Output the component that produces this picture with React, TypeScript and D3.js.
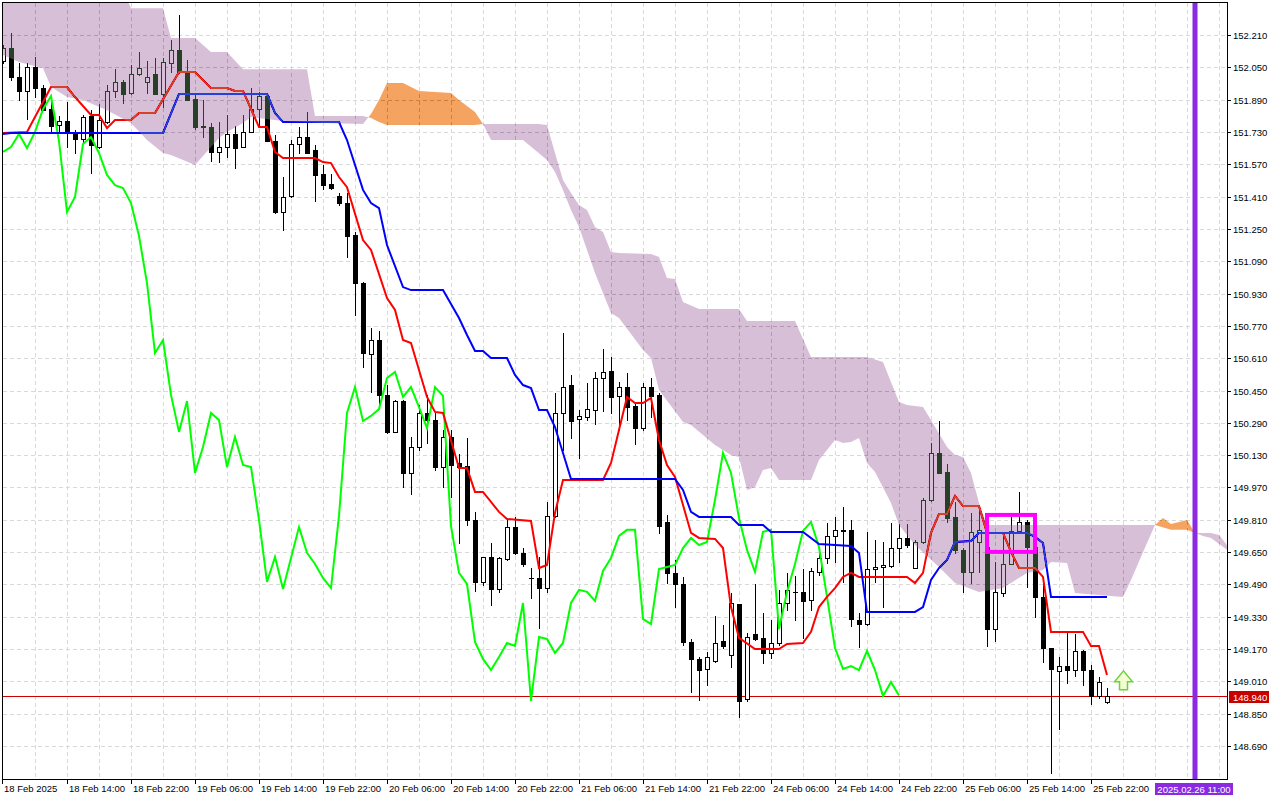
import * as d3 from "d3";

// H1 bars from 18 Feb 2025 06:00 to 26 Feb 2025 00:00 (index 0..138)
const opens = [
  152.081, 152.145, 152.002, 151.933, 152.051, 151.947, 151.843, 151.764, 151.784, 151.725,
  151.695, 151.809, 151.655, 151.779, 151.933, 151.977, 151.923, 152.017, 151.977, 152.017,
  151.918, 152.071, 152.136, 152.027, 151.893, 151.759, 151.754, 151.631, 151.655, 151.720,
  151.655, 151.730, 151.843, 151.908, 151.685, 151.334, 151.413, 151.670, 151.705, 151.640,
  151.522, 151.472, 151.413, 151.378, 151.220, 150.982, 150.631, 150.700, 150.428, 150.245,
  150.398, 150.042, 150.170, 150.339, 150.304, 150.071, 150.220, 150.091, 150.076, 149.809,
  149.502, 149.626, 149.467, 149.616, 149.774, 149.646, 149.522, 149.522, 149.472, 149.829,
  150.339, 150.477, 150.309, 150.319, 150.353, 150.512, 150.547, 150.423, 150.467, 150.373,
  150.264, 150.467, 150.428, 149.799, 149.547, 149.492, 149.205, 149.121, 149.071, 149.111,
  149.210, 149.141, 149.393, 148.923, 149.245, 149.225, 149.151, 149.200, 149.398, 149.453,
  149.453, 149.413, 149.552, 149.621, 149.730, 149.755, 149.760, 149.314, 149.294, 149.566,
  149.576, 149.581, 149.670, 149.720, 149.571, 149.700, 149.908, 150.141, 150.047, 149.824,
  149.661, 149.552, 149.700, 149.675, 149.269, 149.448, 149.591, 149.755, 149.799, 149.675,
  149.428, 149.175, 149.061, 149.086, 149.066, 149.161, 149.066, 148.938, 148.908,
];
const highs = [
  152.160, 152.220, 152.071, 152.071, 152.101, 151.962, 151.888, 151.809, 151.878, 151.739,
  151.814, 151.838, 151.868, 151.962, 152.041, 151.987, 152.061, 152.126, 152.081, 152.096,
  152.096, 152.185, 152.309, 152.086, 151.913, 151.888, 151.774, 151.779, 151.814, 151.759,
  151.814, 151.947, 151.928, 151.913, 151.715, 151.507, 151.690, 151.754, 151.829, 151.665,
  151.566, 151.522, 151.428, 151.428, 151.235, 150.987, 150.759, 150.745, 150.477, 150.403,
  150.403, 150.220, 150.378, 150.428, 150.339, 150.255, 150.255, 150.136, 150.215, 149.849,
  149.626, 149.695, 149.626, 149.819, 149.824, 149.670, 149.571, 149.626, 149.898, 150.438,
  150.735, 150.527, 150.353, 150.487, 150.542, 150.655, 150.616, 150.492, 150.537, 150.383,
  150.487, 150.512, 150.438, 149.834, 149.611, 149.527, 149.220, 149.131, 149.156, 149.334,
  149.289, 149.448, 149.393, 149.250, 149.492, 149.349, 149.314, 149.463, 149.547, 149.532,
  149.566, 149.571, 149.646, 149.794, 149.824, 149.873, 149.809, 149.349, 149.750, 149.710,
  149.700, 149.794, 149.789, 149.789, 149.710, 149.918, 150.190, 150.299, 150.086, 149.898,
  149.670, 149.844, 149.859, 149.695, 149.601, 149.735, 149.824, 149.948, 149.809, 149.735,
  149.497, 149.175, 149.131, 149.250, 149.245, 149.166, 149.091, 149.032, 148.977,
];
const lows = [
  152.071, 151.987, 151.888, 151.794, 151.903, 151.838, 151.725, 151.725, 151.655, 151.626,
  151.675, 151.527, 151.650, 151.774, 151.903, 151.873, 151.918, 152.012, 151.923, 151.918,
  151.853, 152.027, 152.022, 151.888, 151.744, 151.705, 151.586, 151.581, 151.606, 151.551,
  151.655, 151.730, 151.754, 151.685, 151.329, 151.245, 151.408, 151.626, 151.626, 151.388,
  151.447, 151.447, 151.368, 151.111, 150.824, 150.566, 150.443, 150.378, 150.240, 150.245,
  149.972, 149.938, 150.156, 150.190, 150.057, 149.972, 149.923, 149.695, 149.784, 149.458,
  149.487, 149.388, 149.453, 149.611, 149.641, 149.581, 149.423, 149.274, 149.453, 149.824,
  150.156, 150.215, 150.116, 150.304, 150.284, 150.349, 150.339, 150.255, 150.304, 150.185,
  150.255, 150.319, 149.745, 149.497, 149.378, 149.190, 148.958, 148.918, 148.992, 149.106,
  149.175, 149.081, 148.834, 148.913, 149.215, 149.101, 149.126, 149.190, 149.364, 149.314,
  149.225, 149.364, 149.537, 149.596, 149.601, 149.502, 149.284, 149.180, 149.289, 149.502,
  149.378, 149.576, 149.601, 149.675, 149.571, 149.695, 149.903, 150.042, 149.799, 149.646,
  149.453, 149.497, 149.552, 149.185, 149.210, 149.433, 149.591, 149.750, 149.477, 149.329,
  149.106, 148.557, 148.774, 149.002, 149.037, 148.992, 148.898, 148.928, 148.903,
];
const closes = [
  152.145, 152.002, 151.933, 152.051, 151.947, 151.838, 151.759, 151.784, 151.730, 151.695,
  151.804, 151.665, 151.789, 151.933, 151.977, 151.918, 152.017, 152.046, 152.002, 151.918,
  152.076, 152.136, 152.027, 151.888, 151.754, 151.754, 151.631, 151.655, 151.720, 151.650,
  151.730, 151.843, 151.908, 151.685, 151.334, 151.408, 151.670, 151.705, 151.626, 151.517,
  151.467, 151.452, 151.378, 151.215, 150.982, 150.636, 150.700, 150.428, 150.245, 150.398,
  150.042, 150.170, 150.339, 150.304, 150.071, 150.220, 150.081, 150.071, 149.809, 149.502,
  149.626, 149.467, 149.621, 149.774, 149.646, 149.591, 149.522, 149.472, 149.829, 150.339,
  150.467, 150.299, 150.324, 150.358, 150.512, 150.542, 150.418, 150.467, 150.368, 150.264,
  150.467, 150.423, 149.779, 149.547, 149.492, 149.205, 149.121, 149.066, 149.131, 149.200,
  149.185, 149.398, 148.913, 149.230, 149.220, 149.151, 149.200, 149.398, 149.463, 149.453,
  149.408, 149.557, 149.621, 149.730, 149.760, 149.760, 149.319, 149.294, 149.566, 149.576,
  149.586, 149.670, 149.720, 149.685, 149.700, 149.908, 150.141, 150.042, 149.819, 149.661,
  149.552, 149.750, 149.760, 149.269, 149.453, 149.591, 149.755, 149.799, 149.675, 149.428,
  149.175, 149.071, 149.086, 149.066, 149.161, 149.066, 148.938, 149.007, 148.940,
];

// Ichimoku lines, read as [bar, price] vertices
const tenkan: [number, number][] = [
  [0, 151.725], [3, 151.730], [6, 151.952], [8, 151.952], [9, 151.903], [11, 151.814], [12, 151.814],
  [13, 151.749], [14, 151.789], [16, 151.789], [17, 151.824], [19, 151.824], [22, 152.027], [24, 152.027],
  [26, 151.947], [28, 151.947], [29, 151.933], [30, 151.933], [32, 151.754], [33, 151.754], [34, 151.631],
  [35, 151.601], [39, 151.601], [40, 151.581], [41, 151.576], [42, 151.507], [43, 151.457], [45, 151.195],
  [46, 151.146], [48, 150.908], [49, 150.849], [50, 150.700], [51, 150.685], [53, 150.418], [54, 150.344],
  [55, 150.339], [57, 150.066], [58, 150.066], [59, 149.948], [60, 149.948], [62, 149.849], [63, 149.814],
  [66, 149.804], [67, 149.571], [68, 149.586], [69, 149.844], [70, 150.007], [75, 150.007], [76, 150.091],
  [78, 150.418], [79, 150.388], [80, 150.388], [81, 150.413], [82, 150.205], [83, 150.081], [84, 150.022],
  [86, 149.745], [87, 149.720], [89, 149.715], [90, 149.670], [91, 149.378], [92, 149.225], [94, 149.170],
  [97, 149.170], [98, 149.195], [100, 149.200], [101, 149.255], [102, 149.378], [103, 149.428], [104, 149.472],
  [105, 149.527], [106, 149.547], [107, 149.527], [113, 149.527], [114, 149.497], [115, 149.547], [116, 149.745],
  [117, 149.839], [118, 149.839], [119, 149.928], [120, 149.878], [122, 149.878], [123, 149.745], [125, 149.745],
  [126, 149.651], [127, 149.571], [129, 149.571], [130, 149.527], [131, 149.255], [135, 149.255], [136, 149.185],
  [137, 149.185], [138, 149.042],
];
const kijun: [number, number][] = [
  [0, 151.720], [1, 151.725], [20, 151.725], [22, 151.918], [33, 151.918], [34, 151.824], [35, 151.779],
  [42, 151.779], [43, 151.690], [45, 151.443], [46, 151.378], [47, 151.353], [48, 151.170], [50, 150.962],
  [51, 150.947], [55, 150.947], [57, 150.809], [58, 150.725], [59, 150.646], [60, 150.646], [61, 150.611],
  [63, 150.611], [64, 150.527], [65, 150.477], [66, 150.462], [67, 150.353], [68, 150.353], [69, 150.269],
  [71, 150.012], [84, 150.012], [85, 149.958], [86, 149.849], [87, 149.824], [91, 149.824], [92, 149.784],
  [95, 149.784], [96, 149.750], [100, 149.750], [102, 149.690], [106, 149.680], [107, 149.646], [108, 149.354],
  [114, 149.354], [115, 149.378], [116, 149.512], [117, 149.571], [118, 149.611], [119, 149.700], [121, 149.705],
  [122, 149.745], [128, 149.745], [129, 149.725], [130, 149.695], [131, 149.428], [138, 149.428],
];
const spanA: [number, number][] = [
  [0, 152.111], [2, 152.076], [5, 152.046], [6, 151.952], [8, 151.903], [10, 151.888], [13, 151.838],
  [16, 151.774], [18, 151.690], [20, 151.626], [21, 151.616], [24, 151.566], [26, 151.655], [27, 151.700],
  [28, 151.730], [30, 151.774], [31, 151.804], [35, 151.784], [40, 151.774], [45, 151.769], [46, 151.819],
  [47, 151.888], [48, 151.972], [50, 151.972], [52, 151.933], [56, 151.923], [57, 151.888], [58, 151.858],
  [59, 151.829], [60, 151.769], [61, 151.690], [65, 151.690], [68, 151.591], [69, 151.532], [70, 151.443],
  [71, 151.343], [72, 151.259], [73, 151.146], [74, 151.032], [76, 150.834], [77, 150.809], [80, 150.650],
  [81, 150.611], [82, 150.452], [85, 150.294], [86, 150.279], [89, 150.180], [91, 150.131], [92, 150.121],
  [93, 149.958], [94, 149.972], [95, 150.057], [96, 150.066], [97, 150.007], [101, 150.007], [102, 150.106],
  [104, 150.205], [105, 150.190], [106, 150.195], [107, 150.215], [108, 150.091], [109, 150.047], [111, 149.893],
  [112, 149.784], [114, 149.685], [117, 149.576], [119, 149.497], [122, 149.453], [125, 149.472], [126, 149.497],
  [128, 149.547], [130, 149.561], [131, 149.601], [133, 149.596], [134, 149.448], [140, 149.428], [141, 149.512],
  [143, 149.695], [144, 149.784], [145, 149.819], [146, 149.789], [147, 149.799], [148, 149.809], [149, 149.745],
  [150, 149.730], [151, 149.720], [153, 149.661], [155, 149.661],
];
const spanB: [number, number][] = [
  [0, 152.433], [15, 152.433], [16, 152.343], [20, 152.343], [21, 152.195], [24, 152.195], [26, 152.126],
  [28, 152.126], [30, 152.041], [38, 152.041], [39, 151.809], [45, 151.809], [46, 151.799], [47, 151.779],
  [48, 151.764], [59, 151.764], [60, 151.769], [67, 151.769], [68, 151.764], [69, 151.626], [70, 151.492],
  [71, 151.428], [72, 151.368], [73, 151.343], [74, 151.259], [75, 151.235], [76, 151.136], [77, 151.131],
  [81, 151.126], [82, 151.111], [83, 151.007], [84, 151.002], [85, 150.888], [87, 150.853], [92, 150.853],
  [93, 150.794], [99, 150.794], [101, 150.616], [108, 150.616], [110, 150.591], [112, 150.393], [113, 150.378],
  [115, 150.368], [116, 150.304], [118, 150.170], [119, 150.131], [120, 150.121], [121, 150.042], [122, 149.893],
  [123, 149.784], [144, 149.784], [146, 149.760], [148, 149.760], [149, 149.745], [151, 149.745], [152, 149.735],
  [153, 149.685], [155, 149.685],
];

const priceTicks = [
  152.21, 152.05, 151.89, 151.73, 151.57, 151.41, 151.25, 151.09, 150.93, 150.77, 150.61, 150.45,
  150.29, 150.13, 149.97, 149.81, 149.65, 149.49, 149.33, 149.17, 149.01, 148.85, 148.69,
];
const timeLabels: [number, string][] = [
  [0, "18 Feb 2025"], [8, "18 Feb 14:00"], [16, "18 Feb 22:00"], [24, "19 Feb 06:00"], [32, "19 Feb 14:00"],
  [40, "19 Feb 22:00"], [48, "20 Feb 06:00"], [56, "20 Feb 14:00"], [64, "20 Feb 22:00"], [72, "21 Feb 06:00"],
  [80, "21 Feb 14:00"], [88, "21 Feb 22:00"], [96, "24 Feb 06:00"], [104, "24 Feb 14:00"], [112, "24 Feb 22:00"],
  [120, "25 Feb 06:00"], [128, "25 Feb 14:00"], [136, "25 Feb 22:00"],
];
const lastPrice = 148.94;
const cursorBar = 149;
const cursorLabel = "2025.02.26 11:00";
const boxFrom = 123, boxTo = 129, boxHigh = 149.834, boxLow = 149.651;
const arrowBar = 140, arrowPrice = 149.062;

const font = "'Liberation Sans', Arial, sans-serif";

const App: React.FC = () => {
  const width = 1280;
  const height = 800;
  const left = 2, top = 2, right = 1227, bottom = 779;

  const x = d3.scaleLinear([0, 1], [3, 11]);
  const y = d3.scaleLinear([148.69, 152.21], [746, 35]);

  const line = d3.line<[number, number]>((d) => x(d[0]), (d) => y(d[1]));
  const chikou: [number, number][] = closes.slice(26).map((c, k) => [k, c]);

  const aboveLine = d3.area<[number, number]>().x((d) => x(d[0])).y0(-20).y1((d) => y(d[1]));
  const belowLine = d3.area<[number, number]>().x((d) => x(d[0])).y0(bottom + 20).y1((d) => y(d[1]));

  const gridBars = d3.range(4, 154, 4);

  return (
    <svg width={width} height={height} style={{ position: "absolute", left: 0, top: 0 }} fontFamily={font}>
      <defs>
        <clipPath id="plot"><rect x={left + 1} y={top + 1} width={right - left - 1} height={bottom - top - 1} /></clipPath>
        <clipPath id="aboveB"><path d={aboveLine(spanB) ?? undefined} /></clipPath>
        <clipPath id="aboveA"><path d={aboveLine(spanA) ?? undefined} /></clipPath>
      </defs>
      <rect width={width} height={height} fill="white" />

      <g clipPath="url(#plot)">
        <rect x={left} y={top} width={right - left} height={bottom - top} fill="white" />

        {/* grid */}
        <g stroke="#d9d9d9" strokeDasharray="4,3" shapeRendering="crispEdges">
          {priceTicks.map((t) => (
            <line key={t} x1={left + 1} x2={right} y1={Math.round(y(t)) + 0.5} y2={Math.round(y(t)) + 0.5} />
          ))}
          {gridBars.map((b) => (
            <line key={b} x1={x(b) + 0.5} x2={x(b) + 0.5} y1={top + 1} y2={bottom} />
          ))}
        </g>

        <line x1={left} x2={right} y1={Math.round(y(lastPrice)) + 0.5} y2={Math.round(y(lastPrice)) + 0.5}
          stroke="#cc0000" shapeRendering="crispEdges" />

        {/* candles */}
        <g shapeRendering="crispEdges">
          {opens.map((o, i) => {
            const c = closes[i];
            const cx = Math.round(x(i));
            const yt = Math.round(y(Math.max(o, c)));
            const yb = Math.round(y(Math.min(o, c)));
            return (
              <g key={i}>
                <line x1={cx + 0.5} x2={cx + 0.5} y1={Math.round(y(highs[i]))} y2={Math.round(y(lows[i])) + 1} stroke="black" />
                {yb - yt < 1 ? (
                  <line x1={cx - 2} x2={cx + 3} y1={yt + 0.5} y2={yt + 0.5} stroke="black" />
                ) : (
                  <rect x={cx - 1.5} y={yt + 0.5} width={4} height={yb - yt} fill={c >= o ? "white" : "black"} stroke="black" />
                )}
              </g>
            );
          })}
        </g>

        <path d={line(chikou) ?? undefined} fill="none" stroke="#00ff00" strokeWidth={2} />
        <path d={line(tenkan) ?? undefined} fill="none" stroke="#ff0000" strokeWidth={2} />
        <path d={line(kijun) ?? undefined} fill="none" stroke="#0000ff" strokeWidth={2} />

        {/* kumo, drawn by difference so it tints what lies below it */}
        <g style={{ mixBlendMode: "difference" }}>
          <path d={belowLine(spanA) ?? undefined} clipPath="url(#aboveB)" fill="rgb(11,91,159)" />
          <path d={belowLine(spanB) ?? undefined} clipPath="url(#aboveA)" fill="rgb(39,64,39)" />
        </g>

        <rect x={x(boxFrom)} y={y(boxHigh)} width={x(boxTo) - x(boxFrom)} height={y(boxLow) - y(boxHigh)}
          fill="none" stroke="#ff00ff" strokeWidth={4} />

        <path
          transform={`translate(${x(arrowBar) + 0.5},${y(arrowPrice)})`}
          d="M0,0 L9,11 L4,11 L4,19 L-4,19 L-4,11 L-9,11 Z"
          fill="#f2fdd2" stroke="#6ed23c" strokeWidth={1.5} strokeLinejoin="miter"
        />

        <line x1={x(cursorBar)} x2={x(cursorBar)} y1={top} y2={bottom} stroke="#8a2be2" strokeWidth={5} />
      </g>

      {/* frame */}
      <g stroke="black" shapeRendering="crispEdges" fill="none">
        <line x1={left + 0.5} x2={left + 0.5} y1={top} y2={bottom + 1} />
        <line x1={left} x2={right + 1} y1={top + 0.5} y2={top + 0.5} />
        <line x1={right + 0.5} x2={right + 0.5} y1={top} y2={bottom + 1} />
        <line x1={left} x2={right + 1} y1={bottom + 0.5} y2={bottom + 0.5} />
      </g>

      {/* price axis */}
      <g fontSize={9.5} fill="black">
        {priceTicks.map((t) => {
          const ty = Math.round(y(t)) + 0.5;
          return (
            <g key={t}>
              <line x1={right} x2={right + 4} y1={ty} y2={ty} stroke="black" shapeRendering="crispEdges" />
              <text x={right + 6} y={ty + 3.5}>{t.toFixed(3)}</text>
            </g>
          );
        })}
      </g>
      <rect x={1229} y={Math.round(y(lastPrice)) - 5} width={40} height={12} fill="#c80000" />
      <text x={1233} y={Math.round(y(lastPrice)) + 4.5} fontSize={9.5} fill="white">{lastPrice.toFixed(3)}</text>

      {/* time axis */}
      <g fontSize={9.5} fill="black">
        {timeLabels.map(([b, label]) => {
          const tx = b === 0 ? left : Math.round(x(b));
          return (
            <g key={b}>
              <line x1={tx + 0.5} x2={tx + 0.5} y1={bottom} y2={bottom + 5} stroke="black" shapeRendering="crispEdges" />
              <text x={tx + 2} y={792}>{label}</text>
            </g>
          );
        })}
      </g>
      <rect x={1155} y={783} width={78} height={12} fill="#8a2be2" />
      <text x={1194} y={792.5} fontSize={9.5} fill="white" textAnchor="middle">{cursorLabel}</text>
    </svg>
  );
};

export default App;
